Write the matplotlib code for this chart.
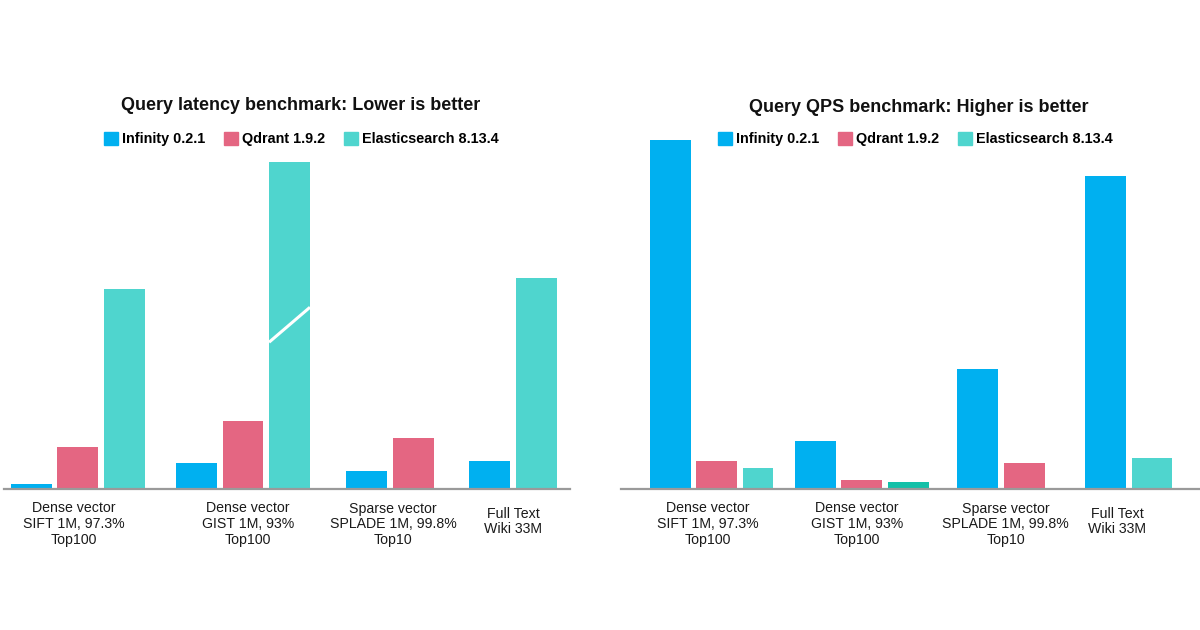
import matplotlib.pyplot as plt
from matplotlib.patches import Patch

plt.rcParams['font.family'] = ['Liberation Sans', 'DejaVu Sans']

series = ['Infinity 0.2.1', 'Qdrant 1.9.2', 'Elasticsearch 8.13.4']
colors = ['#00b0f0', '#e46682', '#4fd5ce']

groups = ['Dense vector\nSIFT 1M, 97.3%\nTop100',
          'Dense vector\nGIST 1M, 93%\nTop100',
          'Sparse vector\nSPLADE 1M, 99.8%\nTop10',
          'Full Text\nWiki 33M']

# values (relative bar heights), None = no bar
latency_inf = [4.5, 25.5, 17.5, 27.5]
latency_qd = [41.5, 67.5, 50.5, None]
latency_es = [199.5, 326.5, None, 210.5]

qps_inf = [348.5, 47.5, 119.5, 312.5]
qps_qd = [27.5, 8.5, 25.5, None]
qps_es = [20.5, 6.5, None, 30.5]

fig = plt.figure(figsize=(12, 6.3), dpi=100)

W, H = 1200, 630
base_y = 488.5
top_y = 100
label_drop = [0, 0, 0, 5]


def panel(x0, x1, data, centers, label_shift, title, title_y, legend_x, narrow=None, dark=None):
    ax = fig.add_axes([x0 / W, (H - base_y) / H, (x1 - x0) / W, (base_y - top_y) / H])
    pitch = 46.5
    ax.set_xlim(0, (x1 - x0) / pitch)
    ax.set_ylim(0, base_y - top_y)
    for spine in ['top', 'right', 'left']:
        ax.spines[spine].set_visible(False)
    ax.spines['bottom'].set_color('#9a9a9a')
    ax.spines['bottom'].set_linewidth(1.6)
    ax.set_xticks([])
    ax.set_yticks([])
    ax.patch.set_alpha(0)

    bars = {}
    for g, c in enumerate(centers):
        present = [s for s in range(3) if data[s][g] is not None]
        n = len(present)
        for k, s in enumerate(present):
            xc = c + (k - (n - 1) / 2)
            w = 0.88
            col = colors[s]
            if narrow == (g, s):
                w = 0.65
            if dark == (g, s):
                col = '#14c0a8'
            b = ax.bar(xc - 0.44, data[s][g], width=w, align='edge', color=col, zorder=2)
            bars[(g, s)] = b[0]
        ax.text(c + label_shift[g], -13 - label_drop[g], groups[g], ha='center', va='top',
                fontsize=10.2, linespacing=1.18, color='#1a1a1a')

    fig.text(((x0 + x1) / 2 + title_y[0]) / W, 1 - title_y[1] / H, title,
             ha='center', va='center', fontsize=13, fontweight='bold', color='#111111')
    handles = [Patch(color=colors[i], label=series[i]) for i in range(3)]
    fig.legend(handles=handles, loc='center', bbox_to_anchor=(legend_x / W, 1 - 139 / H),
               ncol=3, frameon=False, handlelength=1.0, handleheight=1.0,
               handletextpad=0.25, columnspacing=1.3,
               prop={'weight': 'bold', 'size': 10.4})
    return ax, bars


left_data = [latency_inf, latency_qd, latency_es]
right_data = [qps_inf, qps_qd, qps_es]

axl, bl = panel(4, 570, left_data, [1.59, 5.14, 8.30, 10.95], [-0.08, 0.1, 0.07, 0.0],
                'Query latency benchmark: Lower is better', (14, 105), 301)
axr, br = panel(621, 1200, right_data, [2.06, 5.18, 8.17, 10.92], [-0.2, -0.1, 0.1, -0.25],
                'Query QPS benchmark: Higher is better', (8, 107), 915,
                narrow=(0, 2), dark=(1, 2))

# axis break mark on the tall GIST Elasticsearch bar
b = bl[(1, 2)]
x_l, x_r = b.get_x(), b.get_x() + b.get_width()
mid = b.get_height() * 0.5
axl.plot([x_l, x_r], [mid - 17, mid + 18], color='white', lw=2.2, zorder=3,
         solid_capstyle='butt')

fig.savefig('out.png', dpi=100, facecolor='white')
